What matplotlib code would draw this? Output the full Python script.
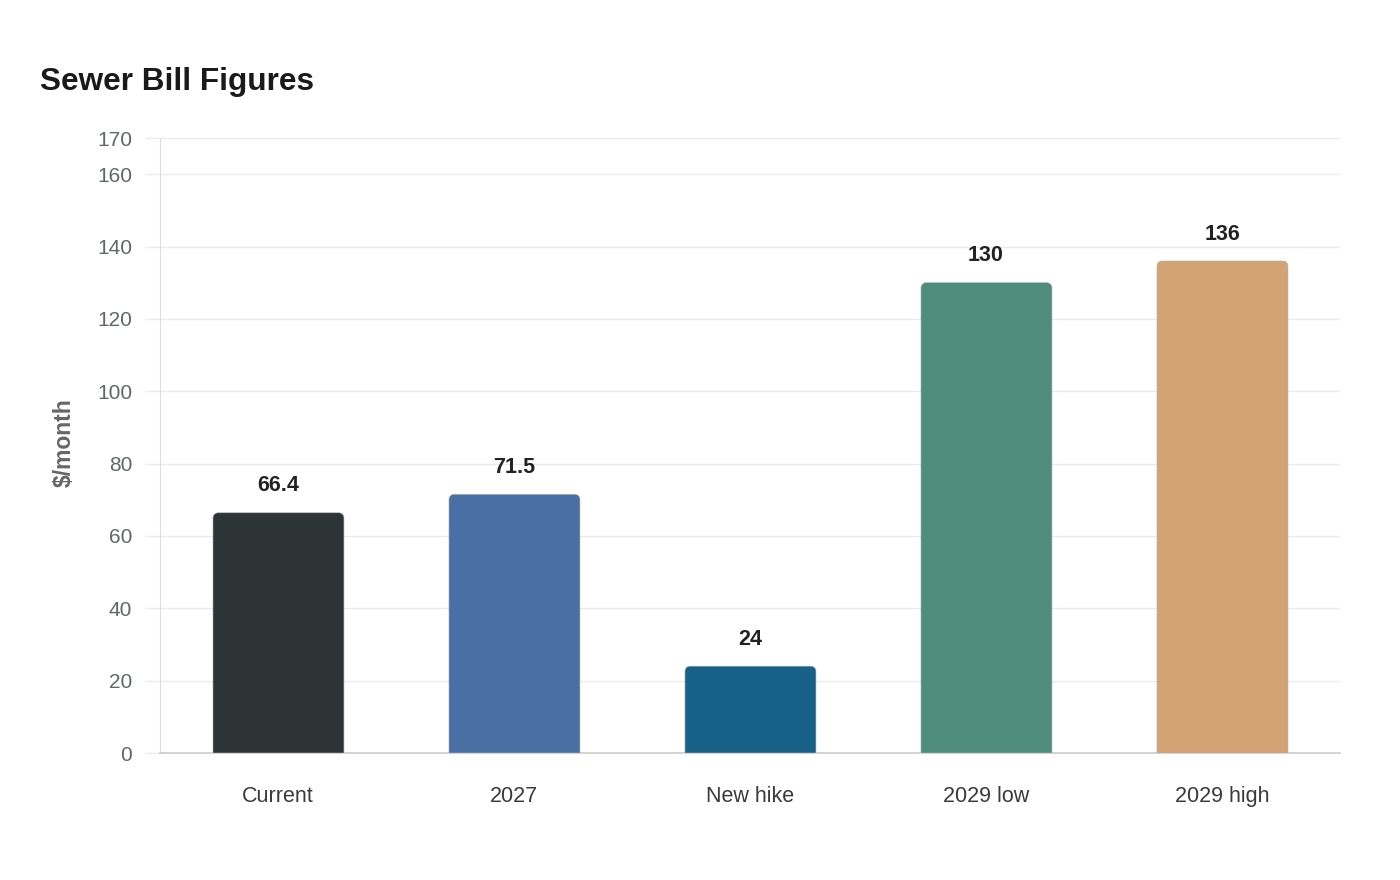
import matplotlib.pyplot as plt
from matplotlib.path import Path
from matplotlib.patches import PathPatch

plt.rcParams['font.family'] = ['Liberation Sans', 'DejaVu Sans']

# data
categories = ['Current', '2027', 'New hike', '2029 low', '2029 high']
values = [66.4, 71.5, 24, 130, 136]
colors = ['#2d3436', '#4a6fa5', '#176087', '#4e8d7c', '#d4a373']
yticks = [0, 20, 40, 60, 80, 100, 120, 140, 160, 170]


def rounded_top(x0, x1, y1, rx, ry):
    # rectangle from y=0 to y1, top corners rounded
    k = 0.5523
    verts = [(x0, 0), (x0, y1 - ry),
             (x0, y1 - ry + k * ry), (x0 + rx - k * rx, y1), (x0 + rx, y1),
             (x1 - rx, y1),
             (x1 - rx + k * rx, y1), (x1, y1 - ry + k * ry), (x1, y1 - ry),
             (x1, 0), (x0, 0)]
    codes = [Path.MOVETO, Path.LINETO,
             Path.CURVE4, Path.CURVE4, Path.CURVE4,
             Path.LINETO,
             Path.CURVE4, Path.CURVE4, Path.CURVE4,
             Path.LINETO, Path.CLOSEPOLY]
    return Path(verts, codes)


fig = plt.figure(figsize=(14, 8.8), dpi=100)
ax = fig.add_axes([160 / 1400, 1 - 753 / 880, 1180 / 1400, 615 / 880])

ax.set_xlim(-0.5, len(categories) - 0.5)
ax.set_ylim(0, 170)

# pixel -> data conversion for the corner radius
px_x = (len(categories)) / 1180
px_y = 170 / 615
width = 0.555

for i, (v, c) in enumerate(zip(values, colors)):
    p = rounded_top(i - width / 2 + 0.002, i + width / 2 + 0.002, v, 5 * px_x, 5 * px_y)
    ax.add_patch(PathPatch(p, facecolor=c, edgecolor='#b0b0b0', linewidth=0.4, zorder=3))
    ax.text(i, v + 27 * px_y, f'{v:g}', ha='center', va='center',
            fontsize=15.5, fontweight='bold', color='#222222', zorder=4)

ax.set_yticks(yticks)
ax.set_xticks(range(len(categories)))
ax.set_xticklabels(categories)
ax.grid(axis='y', color='#ebebeb', linewidth=1, zorder=0)
ax.set_axisbelow(True)

ax.tick_params(axis='y', length=11, color='#ebebeb', width=1, pad=9,
               labelsize=15, labelcolor='#5f6768')
ax.tick_params(axis='x', length=0, pad=24, labelsize=15.5, labelcolor='#3a3a3a')

for s in ['top', 'right']:
    ax.spines[s].set_visible(False)
ax.spines['bottom'].set_color('#cccccc')
ax.spines['bottom'].set_linewidth(1.2)
ax.spines['left'].set_color('#dddddd')
ax.spines['left'].set_linestyle((0, (1, 1)))
ax.spines['left'].set_linewidth(0.8)

ax.set_ylabel('$/month', fontsize=16.5, fontweight='bold', color='#666666')
ax.yaxis.set_label_coords(-84 / 1180, 0.505)

fig.text(40 / 1400, 1 - 90 / 880, 'Sewer Bill Figures', fontsize=22.7,
         fontweight='bold', color='#1a1a1a', ha='left', va='baseline')

fig.savefig('out.png', dpi=100)
